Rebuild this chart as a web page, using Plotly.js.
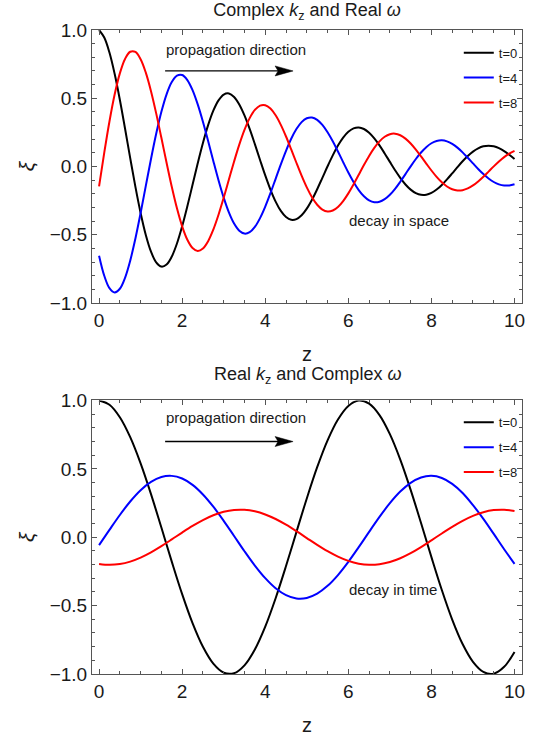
<!DOCTYPE html>
<html><head><meta charset="utf-8">
<script src="https://cdn.plot.ly/plotly-3.0.1.min.js"></script>
<style>html,body{margin:0;padding:0;background:#fff}#chart{width:536px;height:738px}</style>
</head><body><div id="chart"></div>
<script>
// z grids (read positions along the axis)
const zSpace = [0,0.125,0.25,0.375,0.5,0.625,0.75,0.875,1,1.125,1.25,1.375,1.5,1.625,1.75,1.875,2,2.125,2.25,2.375,2.5,2.625,2.75,2.875,3,3.125,3.25,3.375,3.5,3.625,3.75,3.875,4,4.125,4.25,4.375,4.5,4.625,4.75,4.875,5,5.125,5.25,5.375,5.5,5.625,5.75,5.875,6,6.125,6.25,6.375,6.5,6.625,6.75,6.875,7,7.125,7.25,7.375,7.5,7.625,7.75,7.875,8,8.125,8.25,8.375,8.5,8.625,8.75,8.875,9,9.125,9.25,9.375,9.5,9.625,9.75,9.875,10];
const zTime = [0,0.25,0.5,0.75,1,1.25,1.5,1.75,2,2.25,2.5,2.75,3,3.25,3.5,3.75,4,4.25,4.5,4.75,5,5.25,5.5,5.75,6,6.25,6.5,6.75,7,7.25,7.5,7.75,8,8.25,8.5,8.75,9,9.25,9.5,9.75,10];

// Top panel: complex k_z and real omega
const spaceT0 = [1.0000,0.9450,0.8348,0.6788,0.4889,0.2783,0.0609,-0.1496,-0.3407,-0.5016,-0.6239,-0.7021,-0.7334,-0.7183,-0.6599,-0.5640,-0.4382,-0.2916,-0.1344,0.0234,0.1721,0.3029,0.4089,0.4846,0.5270,0.5350,0.5098,0.4547,0.3744,0.2751,0.1637,0.0478,-0.0654,-0.1691,-0.2573,-0.3255,-0.3704,-0.3905,-0.3857,-0.3574,-0.3087,-0.2434,-0.1664,-0.0830,0.0015,0.0817,0.1530,0.2115,0.2542,0.2792,0.2859,0.2747,0.2473,0.2061,0.1545,0.0955,0.0337,-0.0271,-0.0833,-0.1316,-0.1695,-0.1952,-0.2077,-0.2068,-0.1934,-0.1687,-0.1349,-0.0945,-0.0503,-0.0051,0.0381,0.0769,0.1092,0.1331,0.1477,0.1526,0.1479,0.1343,0.1132,0.0862,0.0552];
const spaceT4 = [-0.6536,-0.8003,-0.8908,-0.9223,-0.8958,-0.8157,-0.6896,-0.5273,-0.3407,-0.1423,0.0551,0.2395,0.4003,0.5287,0.6184,0.6659,0.6703,0.6334,0.5596,0.4550,0.3277,0.1865,0.0408,-0.1003,-0.2284,-0.3362,-0.4182,-0.4706,-0.4916,-0.4815,-0.4424,-0.3780,-0.2937,-0.1955,-0.0901,0.0157,0.1153,0.2031,0.2741,0.3248,0.3532,0.3586,0.3418,0.3048,0.2510,0.1844,0.1098,0.0321,-0.0438,-0.1133,-0.1725,-0.2182,-0.2483,-0.2618,-0.2585,-0.2396,-0.2069,-0.1632,-0.1116,-0.0556,0.0010,0.0548,0.1026,0.1418,0.1704,0.1871,0.1916,0.1842,0.1658,0.1381,0.1035,0.0640,0.0226,-0.0182,-0.0558,-0.0882,-0.1136,-0.1309,-0.1392,-0.1386,-0.1296];
const spaceT8 = [-0.1455,0.1012,0.3297,0.5269,0.6822,0.7881,0.8406,0.8390,0.7861,0.6877,0.5519,0.3890,0.2101,0.0272,-0.1486,-0.3066,-0.4382,-0.5365,-0.5971,-0.6182,-0.6005,-0.5468,-0.4622,-0.3535,-0.2284,-0.0954,0.0369,0.1605,0.2683,0.3544,0.4145,0.4464,0.4493,0.4246,0.3751,0.3050,0.2197,0.1250,0.0274,-0.0672,-0.1531,-0.2254,-0.2804,-0.3155,-0.3295,-0.3227,-0.2965,-0.2534,-0.1969,-0.1310,-0.0604,0.0105,0.0773,0.1361,0.1837,0.2177,0.2368,0.2404,0.2291,0.2043,0.1682,0.1236,0.0736,0.0215,-0.0294,-0.0760,-0.1156,-0.1463,-0.1665,-0.1755,-0.1733,-0.1606,-0.1387,-0.1094,-0.0748,-0.0373,0.0007,0.0367,0.0688,0.0950,0.1142];

// Bottom panel: real k_z and complex omega
const timeT0 = [1.0000,0.9689,0.8776,0.7317,0.5403,0.3153,0.0707,-0.1783,-0.4162,-0.6282,-0.8011,-0.9243,-0.9900,-0.9941,-0.9365,-0.8206,-0.6536,-0.4461,-0.2108,0.0376,0.2837,0.5121,0.7087,0.8612,0.9602,0.9995,0.9766,0.8930,0.7539,0.5679,0.3466,0.1038,-0.1455,-0.3858,-0.6020,-0.7809,-0.9111,-0.9848,-0.9972,-0.9476,-0.8391];
const timeT4 = [-0.0579,0.0541,0.1628,0.2614,0.3437,0.4046,0.4404,0.4488,0.4293,0.3831,0.3131,0.2236,0.1202,0.0094,-0.1021,-0.2072,-0.2994,-0.3730,-0.4234,-0.4475,-0.4437,-0.4124,-0.3554,-0.2763,-0.1801,-0.0727,0.0393,0.1488,0.2491,0.3339,0.3979,0.4372,0.4493,0.4334,0.3906,0.3236,0.2347,0.1345,0.0243,-0.0875,-0.1942];
const timeT8 = [-0.1952,-0.2019,-0.1960,-0.1780,-0.1489,-0.1105,-0.0653,-0.0160,0.0343,0.0825,0.1255,0.1607,0.1860,0.1996,0.2009,0.1897,0.1666,0.1333,0.0916,0.0442,-0.0059,-0.0556,-0.1019,-0.1419,-0.1730,-0.1934,-0.2017,-0.1975,-0.1811,-0.1533,-0.1161,-0.0716,-0.0226,0.0277,0.0763,0.1202,0.1566,0.1833,0.1985,0.2015,0.1919];

const seriesNames = ['t=0','t=4','t=8'];
const seriesColors = ['#000000','#0000ff','#ff0000'];

// annotation anchors (data units)
const arrowTail = 1.59, arrowTip = 4.67, arrowLevel = 0.70;

const FONT = 'Liberation Sans, Arial, sans-serif';
const FRAME = '#555555';
const TXT = '#1a1a1a';

const topSeries = [spaceT0, spaceT4, spaceT8];
const botSeries = [timeT0, timeT4, timeT8];

const traces = [];
topSeries.forEach((ys, i) => traces.push({
  x: zSpace, y: ys, type: 'scatter', mode: 'lines', name: seriesNames[i],
  line: {color: seriesColors[i], width: 2, shape: 'spline'},
  xaxis: 'x', yaxis: 'y', legend: 'legend', legendgroup: 'top' + i
}));
botSeries.forEach((ys, i) => traces.push({
  x: zTime, y: ys, type: 'scatter', mode: 'lines', name: seriesNames[i],
  line: {color: seriesColors[i], width: 2, shape: 'spline'},
  xaxis: 'x2', yaxis: 'y2', legend: 'legend2', legendgroup: 'bot' + i
}));

function xAxis(anchor) {
  return {
    anchor: anchor, domain: [0, 1], range: [-0.17, 10.18],
    tick0: 0, dtick: 2, ticks: 'inside', ticklen: 5, tickcolor: FRAME, tickwidth: 1,
    showline: true, linecolor: FRAME, linewidth: 1, mirror: 'ticks',
    showgrid: false, zeroline: false,
    minor: {dtick: 0.5, ticks: 'inside', ticklen: 3, tickcolor: FRAME, showgrid: false},
    tickfont: {family: FONT, size: 19, color: TXT},
    title: {text: 'z', font: {family: FONT, size: 20, color: TXT}, standoff: 17}
  };
}
function yAxis(anchor, domain) {
  return {
    anchor: anchor, domain: domain, range: [-1, 1],
    tick0: 0, dtick: 0.5, tickformat: '.1f', ticks: 'inside', ticklen: 5, tickcolor: FRAME, tickwidth: 1,
    showline: true, linecolor: FRAME, linewidth: 1, mirror: 'ticks',
    showgrid: false, zeroline: false,
    minor: {dtick: 0.1, ticks: 'inside', ticklen: 3, tickcolor: FRAME, showgrid: false},
    tickfont: {family: FONT, size: 19, color: TXT},
    title: {text: '<i>ξ</i>', font: {family: FONT, size: 21, color: TXT}, standoff: 9}
  };
}

function legendCfg(y) {
  return {x: 0.853, xanchor: 'left', y: y, yanchor: 'top', bgcolor: 'rgba(0,0,0,0)',
    font: {family: FONT, size: 13, color: TXT}, tracegroupgap: 5, traceorder: 'grouped'};
}

function arrowShapes(xr, yr) {
  return [
    {type: 'line', xref: xr, yref: yr, x0: arrowTail, x1: arrowTip - 0.3, y0: arrowLevel, y1: arrowLevel,
     line: {color: '#000', width: 1.3}},
    {type: 'path', xref: xr, yref: yr, xsizemode: 'pixel', ysizemode: 'pixel',
     xanchor: arrowTip, yanchor: arrowLevel, path: 'M0,0 L-18,-5 L-15,0 L-18,5 Z',
     fillcolor: '#000', line: {color: '#000', width: 0.5}}
  ];
}

const noteFont = {family: FONT, size: 15, color: TXT};
const annotations = [
  {xref: 'paper', yref: 'paper', x: 0.5, y: 0.4635, yanchor: 'middle', showarrow: false,
   text: 'Real <i>k</i><sub>z</sub> and Complex <i>ω</i>', font: {family: FONT, size: 18, color: TXT}},
  {xref: 'x', yref: 'y', x: 1.57, y: 0.856, xanchor: 'left', showarrow: false, text: 'propagation direction', font: noteFont},
  {xref: 'x', yref: 'y', x: 7.22, y: -0.395, showarrow: false, text: 'decay in space', font: noteFont},
  {xref: 'x2', yref: 'y2', x: 1.57, y: 0.872, xanchor: 'left', showarrow: false, text: 'propagation direction', font: noteFont},
  {xref: 'x2', yref: 'y2', x: 7.08, y: -0.385, showarrow: false, text: 'decay in time', font: noteFont}
];

const layout = {
  width: 536, height: 738,
  margin: {l: 92, r: 14, t: 30, b: 64},
  paper_bgcolor: '#fff', plot_bgcolor: '#fff',
  font: {family: FONT, color: TXT},
  title: {text: 'Complex <i>k</i><sub>z</sub> and Real <i>ω</i>', font: {family: FONT, size: 18, color: TXT},
          x: 0.5, xref: 'paper', y: 1 - 10 / 738, yref: 'container', yanchor: 'middle'},
  xaxis: xAxis('y'),
  yaxis: yAxis('x', [0.5761, 1]),
  xaxis2: xAxis('y2'),
  yaxis2: yAxis('x2', [0, 0.4247]),
  legend: legendCfg(0.988),
  legend2: legendCfg(0.4141),
  showlegend: true,
  shapes: arrowShapes('x', 'y').concat(arrowShapes('x2', 'y2')),
  annotations: annotations
};

Plotly.newPlot('chart', traces, layout, {displayModeBar: false, staticPlot: true});
</script>
</body></html>
